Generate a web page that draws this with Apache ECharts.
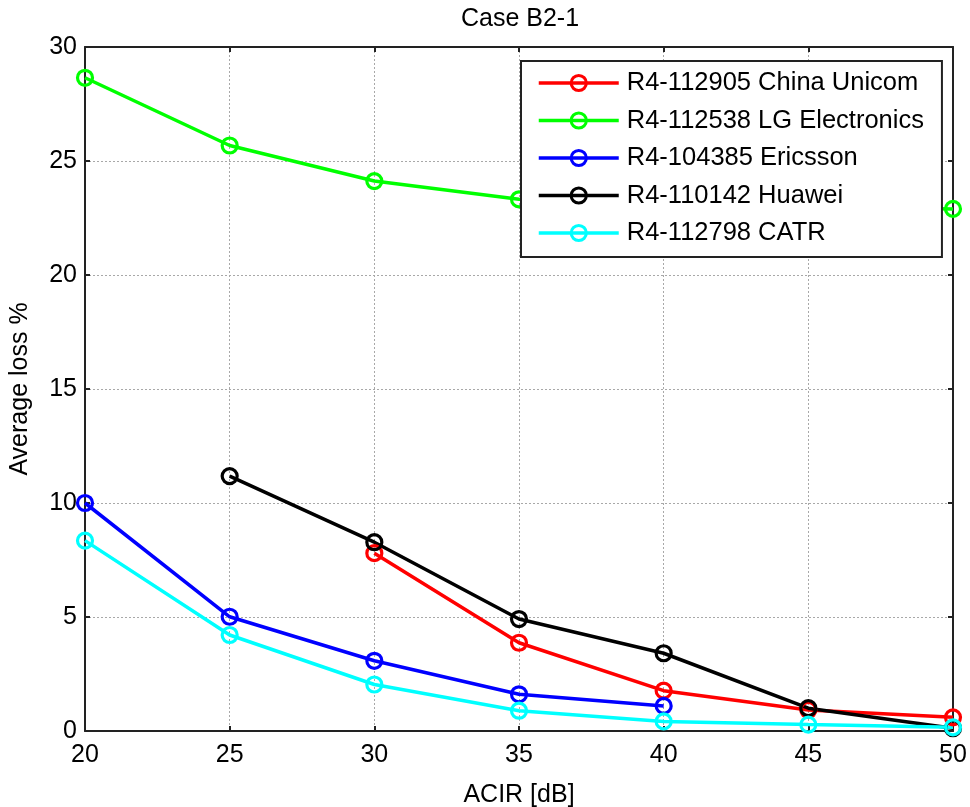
<!DOCTYPE html>
<html>
<head>
<meta charset="utf-8">
<script src="https://cdn.jsdelivr.net/npm/echarts@6/dist/echarts.min.js"></script>
<style>html,body{margin:0;padding:0;background:#fff;}#c{width:970px;height:807px;}</style>
</head>
<body>
<div id="c"></div>
<script>
var acir = [20, 25, 30, 35, 40, 45, 50];
var chinaUnicom = [null, null, 7.8, 3.87, 1.77, 0.92, 0.6];
var lgElectronics = [28.65, 25.68, 24.12, 23.32, 23.1, 23.0, 22.9];
var ericsson = [10.0, 5.01, 3.08, 1.61, 1.1, null, null];
var huawei = [null, 11.18, 8.28, 4.91, 3.41, 1.0, 0.12];
var catr = [8.35, 4.21, 2.04, 0.89, 0.42, 0.28, 0.16];
var seriesNames = ['R4-112905 China Unicom', 'R4-112538 LG Electronics', 'R4-104385 Ericsson', 'R4-110142 Huawei', 'R4-112798 CATR'];
var seriesColors = ['#ff0000', '#00ff00', '#0000ff', '#000000', '#00ffff'];
var seriesValues = [chinaUnicom, lgElectronics, ericsson, huawei, catr];

var chart = echarts.init(document.getElementById('c'), null, {renderer: 'canvas'});
var font = 'Liberation Sans, Arial, sans-serif';
var series = seriesNames.map(function (n, i) {
  return {
    name: n,
    type: 'line',
    data: acir.map(function (x, j) { return [x, seriesValues[i][j]]; }),
    connectNulls: false,
    symbol: 'circle',
    symbolSize: 15,
    showAllSymbol: true,
    lineStyle: {color: seriesColors[i], width: 3.5},
    itemStyle: {color: 'rgba(0,0,0,0)', borderColor: seriesColors[i], borderWidth: 3.2},
    emphasis: {disabled: true},
    animation: false,
    clip: false
  };
});
var legendData = seriesNames.map(function (n, i) {
  return {
    name: n,
    itemStyle: {color: 'rgba(0,0,0,0)', borderColor: seriesColors[i], borderWidth: 3},
    lineStyle: {color: seriesColors[i], width: 3.5}
  };
});
var gridLine = {show: true, lineStyle: {color: '#a8a8a8', type: [2, 2], width: 1}};
var axisLineStyle = {color: '#222', width: 2};
chart.setOption({
  animation: false,
  title: {text: 'Case B2-1', left: 515, top: 2, textAlign: 'center',
    textStyle: {fontFamily: font, fontSize: 25, fontWeight: 'normal', color: '#000'}},
  grid: {left: 85, right: 17, top: 47, bottom: 76, containLabel: false, outerBoundsMode: 'none'},
  legend: {
    orient: 'vertical', left: 521, top: 61,
    data: legendData,
    itemWidth: 80, itemHeight: 19, itemGap: 11.5,
    padding: [9, 18, 11, 16],
    borderColor: '#222', borderWidth: 2, backgroundColor: '#fff',
    itemStyle: {borderWidth: 3},
    lineStyle: {width: 3.5},
    textStyle: {fontFamily: font, fontSize: 25.5, color: '#000', padding: [0, 0, 0, 3]},
    selectedMode: false,
    z: 10
  },
  xAxis: [{
    type: 'value', min: 20, max: 50, interval: 5, position: 'bottom',
    name: 'ACIR [dB]', nameLocation: 'middle', nameGap: 52,
    nameTextStyle: {fontFamily: font, fontSize: 25, color: '#000'},
    axisLine: {show: true, onZero: false, lineStyle: axisLineStyle},
    axisTick: {show: true, inside: true, length: 5, lineStyle: axisLineStyle},
    axisLabel: {fontFamily: font, fontSize: 25, color: '#000', margin: 12},
    splitLine: gridLine
  }, {
    type: 'value', min: 20, max: 50, interval: 5, position: 'top',
    axisLine: {show: true, onZero: false, lineStyle: axisLineStyle},
    axisTick: {show: true, inside: true, length: 5, lineStyle: axisLineStyle},
    axisLabel: {show: false}, splitLine: {show: false}
  }],
  yAxis: [{
    type: 'value', min: 0, max: 30, interval: 5, position: 'left',
    name: 'Average loss %', nameLocation: 'middle', nameGap: 52,
    nameTextStyle: {fontFamily: font, fontSize: 25, color: '#000'},
    axisLine: {show: true, onZero: false, lineStyle: axisLineStyle},
    axisTick: {show: true, inside: true, length: 5, lineStyle: axisLineStyle},
    axisLabel: {fontFamily: font, fontSize: 25, color: '#000', margin: 8},
    splitLine: gridLine
  }, {
    type: 'value', min: 0, max: 30, interval: 5, position: 'right',
    axisLine: {show: true, onZero: false, lineStyle: axisLineStyle},
    axisTick: {show: true, inside: true, length: 5, lineStyle: axisLineStyle},
    axisLabel: {show: false}, splitLine: {show: false}
  }],
  series: series
});
</script>
</body>
</html>
